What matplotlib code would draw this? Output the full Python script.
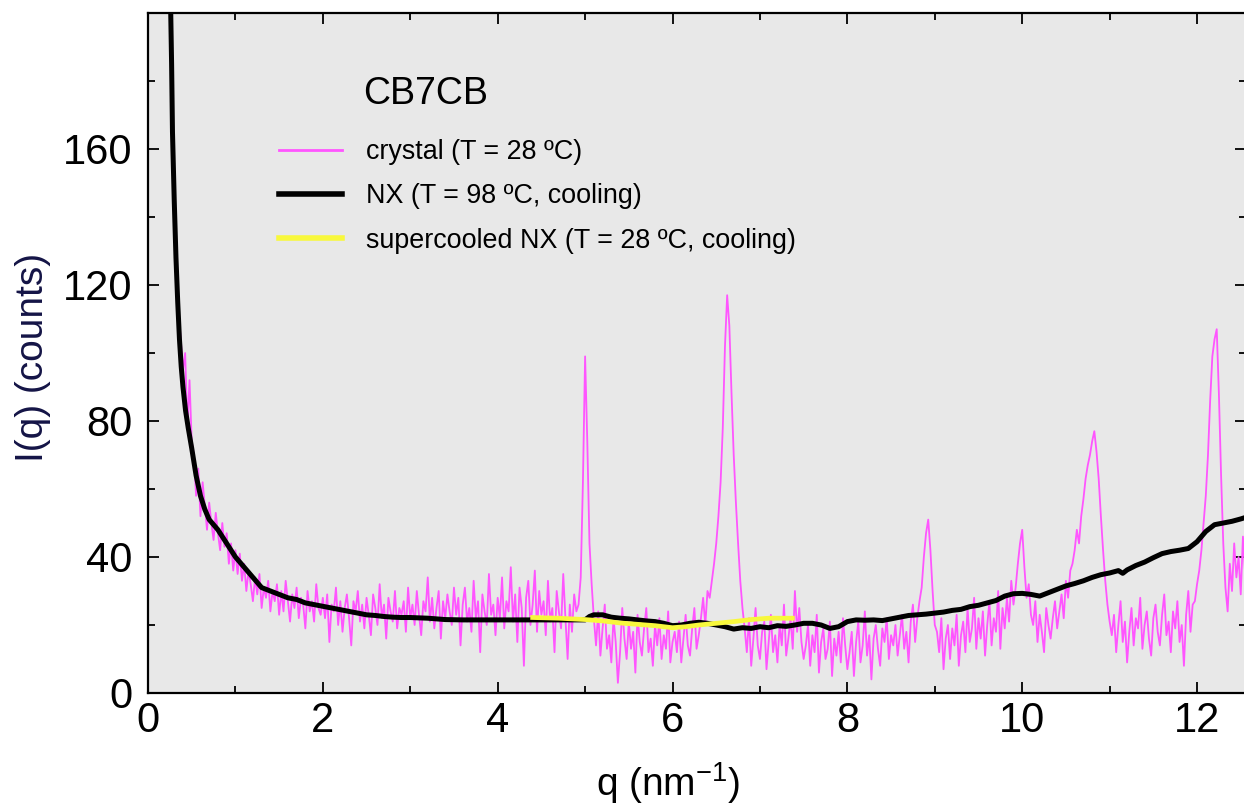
import numpy as np
import matplotlib
matplotlib.use("Agg")
import matplotlib.pyplot as plt
from matplotlib.ticker import MultipleLocator

plt.rcParams['font.family'] = ['Liberation Sans', 'DejaVu Sans']
plt.rcParams['mathtext.fontset'] = 'custom'
plt.rcParams['mathtext.rm'] = 'Liberation Sans'
plt.rcParams['mathtext.it'] = 'Liberation Sans:italic'

# ---------------- data ----------------
# crystal (T = 28 C): sampled every 0.025 nm^-1 starting at q = 0.275
crystal_q0 = 0.275
crystal_dq = 0.025
crystal_I = [
    175, 150, 128, 112, 104, 95, 100, 78, 92, 74,                          # 0.275-0.5
    70, 58, 66, 52, 62, 55, 48, 56, 50, 45, 53, 47, 42, 50, 43, 47, 38, 44, 36, 42,  # -1.0
    35, 41, 33, 38, 30, 36, 32, 27, 34, 29, 35, 25, 31, 28, 33, 24, 30, 27, 32, 23,  # -1.5
    30, 24, 33, 27, 21, 29, 25, 31, 22, 28, 26, 19, 30, 24, 27, 21, 32, 25, 23, 28,  # -2.0
    22, 29, 15, 26, 24, 31, 20, 27, 18, 25, 29, 22, 14, 27, 24, 30, 21, 26, 19, 28,  # -2.5
    23, 17, 29, 25, 20, 32, 22, 26, 16, 28, 24, 21, 30, 19, 25, 23, 27, 18, 31, 22,  # -3.0
    26, 20, 30, 23, 17, 27, 24, 34, 21, 28, 19, 25, 30, 16, 27, 22, 29, 24, 20, 31,  # -3.5
    23, 28, 14, 26, 31, 21, 25, 18, 33, 22, 27, 12, 29, 24, 20, 35, 23, 26, 17, 28,  # -4.0
    22, 34, 19, 27, 24, 37, 21, 29, 15, 31, 25, 8, 28, 33, 20, 26, 36, 18, 30, 23,   # -4.5
    27, 17, 33, 21, 25, 12, 30, 24, 19, 35, 22, 10, 26, 18, 29, 24,                  # -4.9
    26, 34, 62, 99, 74, 44, 32, 22,                                                  # -5.1
    14, 24, 11, 19, 26, 13, 17, 9, 22, 15, 3, 12, 25, 16, 10, 21,                    # -5.5
    13, 18, 6, 23, 15, 11, 19, 25, 12, 16, 8, 20, 14, 22, 10, 17, 13, 24, 9, 15,     # -6.0
    18, 12, 21, 9, 16, 23, 14, 11, 19, 25, 13, 17, 22, 28, 20, 30,                   # -6.4
    28, 33, 38, 44, 52, 62, 78, 102, 117, 108, 88, 70, 56, 44, 33, 25,               # -6.8
    19, 12, 22, 8, 16, 25, 14, 10, 18, 21, 7, 15, 23, 12, 17, 9, 20, 14, 26, 11,
    16, 22, 13, 30, 18, 25, 15, 10,                                                  # -7.5
    14, 20, 8, 17, 12, 23, 6, 15, 19, 10, 13, 21, 5, 16, 11, 18, 9, 22, 14, 7,       # -8.0
    12, 18, 5, 15, 21, 9, 14, 24, 11, 17, 4, 16, 20, 13, 8, 19, 15, 22, 10, 17,      # -8.5
    14, 20, 11, 17, 23, 13, 18, 9, 21, 26, 15, 22,                                   # -8.8
    27, 31, 40, 47, 51, 42, 30, 20,                                                  # -9.0
    18, 12, 22, 7, 16, 20, 10, 19, 14, 23, 8, 17, 21, 12, 25, 15, 19, 28, 13, 22,    # -9.5
    16, 24, 11, 20, 27, 14, 22, 18, 30, 13, 25, 19, 28, 21, 33, 26,                  # -9.9
    31, 38, 44, 48, 37, 28, 32, 23,                                                  # -10.1
    20, 27, 15, 23, 18, 12, 25, 20, 16, 22, 27, 19, 24, 29, 22, 33, 28, 36,          # -10.55
    38, 42, 48, 44, 52, 57, 63, 67, 70, 74, 77, 71, 63, 52, 42, 33, 26, 21,          # -11.0
    17, 23, 12, 20, 27, 15, 21, 9, 18, 25, 14, 22, 19, 28, 13, 20, 24, 16, 11, 22,
    26, 18, 14, 23, 29, 17, 21, 12, 24, 19, 27, 15, 20, 8, 23, 30, 18, 26,           # -11.95
    27, 32, 36, 42, 50, 58, 70, 86, 99, 104, 107, 88, 64, 44, 31, 24,                # -12.35
    38, 30, 44, 34, 40, 29, 46, 35,                                                  # -12.55
]

# NX (T = 98 C, cooling)
nx_q = [0.25, 0.27, 0.28, 0.30, 0.32, 0.34, 0.36, 0.38, 0.40, 0.43, 0.46, 0.50,
        0.55, 0.60, 0.65, 0.70, 0.80, 0.90, 1.00, 1.10, 1.20, 1.30, 1.40, 1.50,
        1.60, 1.70, 1.80, 1.90, 2.00, 2.10, 2.20, 2.30, 2.40, 2.50, 2.60, 2.70,
        2.80, 2.90, 3.00, 3.20, 3.40, 3.60, 3.80, 4.00, 4.50, 5.00, 5.05, 5.10,
        5.20, 5.30, 5.40, 5.50, 5.60, 5.70, 5.80, 5.90, 6.00, 6.10, 6.20, 6.30,
        6.40, 6.50, 6.60, 6.70, 6.80, 6.90, 7.00, 7.10, 7.20, 7.30, 7.40, 7.50,
        7.60, 7.70, 7.80, 7.90, 8.00, 8.10, 8.20, 8.30, 8.40, 8.50, 8.60, 8.70,
        8.80, 8.90, 9.00, 9.10, 9.20, 9.30, 9.40, 9.50, 9.60, 9.70, 9.80, 9.90,
        10.00, 10.10, 10.20, 10.30, 10.40, 10.50, 10.60, 10.70, 10.80, 10.90,
        11.00, 11.10, 11.15, 11.20, 11.30, 11.40, 11.50, 11.60, 11.70, 11.80,
        11.90, 12.00, 12.10, 12.20, 12.30, 12.40, 12.50, 12.55]
nx_I = [215, 185, 165, 145, 128, 115, 104, 96, 90, 83, 78, 72,
        64, 58, 54, 51, 48, 44, 40, 37, 34, 31, 30, 29,
        28, 27.5, 26.5, 26, 25.5, 25, 24.5, 24, 23.5, 23, 22.8, 22.5,
        22.3, 22.2, 22.2, 22.0, 21.6, 21.5, 21.5, 21.5, 21.5, 21.5, 22.5, 23,
        23, 22.3, 22, 21.8, 21.5, 21.2, 21, 20.5, 19.8, 20, 20.5, 20.8,
        20.5, 20, 19.5, 18.8, 19.2, 19, 19.5, 19.2, 19.8, 19.6, 20, 20.5,
        20.5, 20, 19, 19.5, 21, 21.5, 21.4, 21.5, 21.3, 21.8, 22.3, 22.8,
        23, 23.2, 23.5, 23.8, 24.3, 24.6, 25.4, 25.8, 26.5, 27.2, 28.5, 29.2,
        29.3, 29, 28.5, 29.5, 30.5, 31.5, 32.2, 33, 34, 34.8,
        35.3, 36, 35.2, 36.2, 37.5, 38.5, 39.8, 41, 41.6, 42,
        42.5, 44.5, 47.5, 49.5, 50, 50.5, 51.2, 51.6]

# supercooled NX (T = 28 C, cooling)
sc_q = [4.40, 4.70, 5.00, 5.20, 5.40, 5.60, 5.80, 6.00, 6.15, 6.30, 6.50,
        6.70, 6.90, 7.10, 7.37]
sc_I = [22.2, 22.0, 21.6, 21.2, 20.6, 20.2, 19.8, 19.2, 19.5, 20.0, 20.5,
        21.0, 21.6, 22.0, 22.0]

labels = ["crystal (T = 28 ºC)", "NX (T = 98 ºC, cooling)",
          "supercooled NX (T = 28 ºC, cooling)"]
title_text = "CB7CB"
xticks = [0, 2, 4, 6, 8, 10, 12]
yticks = [0, 40, 80, 120, 160]

# ---------------- plot ----------------
W, H = 1244, 810
fig = plt.figure(figsize=(W / 100, H / 100), dpi=100)
ax = fig.add_axes([148 / W, 1 - 693 / H, (1246 - 148) / W, (693 - 13) / H])
ax.set_facecolor('#e8e8e8')

crystal_q = crystal_q0 + crystal_dq * np.arange(len(crystal_I))
l1, = ax.plot(crystal_q, crystal_I, color='#ff55ff', lw=1.3, zorder=2)
l2, = ax.plot(nx_q, nx_I, color='black', lw=3.6, zorder=3)
l3, = ax.plot(sc_q, sc_I, color='#f8f83c', lw=3.4, zorder=4)

ax.set_xlim(0, 12.56)
ax.set_ylim(0, 200)
ax.set_xticks(xticks)
ax.set_yticks(yticks)
ax.xaxis.set_minor_locator(MultipleLocator(1))
ax.yaxis.set_minor_locator(MultipleLocator(20))
ax.tick_params(which='both', direction='in', top=True, right=True, width=1.3)
ax.tick_params(which='major', length=8)
ax.tick_params(which='minor', length=5)
ax.tick_params(axis='x', which='major', labelsize=30, pad=6)
ax.tick_params(axis='y', which='major', labelsize=30, pad=11)
for s in ax.spines.values():
    s.set_linewidth(1.6)

fig.text(668 / W, 1 - 796 / H, "q (nm$^{-1}$)", fontsize=28, ha='center', va='baseline')
fig.text(33 / W, 1 - 357 / H, "I(q) (counts)", fontsize=28, rotation=90,
         ha='center', va='center', color='#141446')

ax.text((363 - 148) / (1246 - 148), 1 - (104 - 13) / (693 - 13), title_text,
        transform=ax.transAxes, fontsize=27, ha='left', va='baseline')

leg = ax.legend([l1, l2, l3], labels, loc='upper left', frameon=False,
                bbox_to_anchor=(279 / W, 1 - 139 / H), bbox_transform=fig.transFigure,
                fontsize=19.4, handlelength=2.35, handletextpad=0.88, labelspacing=0.68,
                borderpad=0, borderaxespad=0)
leg.get_lines()[0].set_linewidth(2.0)
leg.get_lines()[1].set_linewidth(4.0)
leg.get_lines()[2].set_linewidth(4.0)

fig.savefig("out.png", dpi=100)
